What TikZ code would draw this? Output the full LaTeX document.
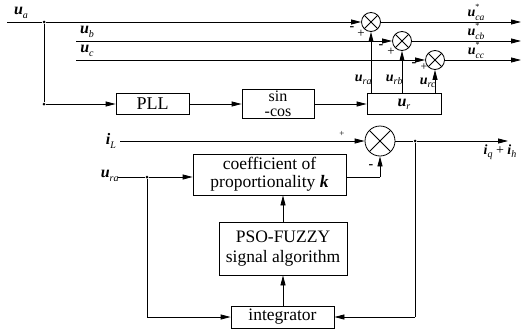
\documentclass[tikz,border=0pt]{standalone}
\usepackage{fontspec}
\setmainfont{Liberation Serif}
\usetikzlibrary{arrows.meta,calc}

% bold italic variable, italic subscript, optional star superscript
\newcommand\bv[1]{\textbf{\textit{#1}}}
\newcommand\sbv[2]{\bv{#1}\raisebox{-0.45ex}{\fontsize{10}{10}\selectfont\textit{#2}}}
\newcommand\ssbv[2]{\bv{#1}\makebox[0pt][l]{\raisebox{1.15ex}{\fontsize{8}{8}\selectfont *}}%
  \raisebox{-0.55ex}{\fontsize{9.5}{10}\selectfont\textit{#2}}}

\begin{document}
\begin{tikzpicture}[x=1pt,y=-1pt,
  line width=0.8pt,
  >={Triangle[length=10pt,width=5pt]},
  blk/.style={draw,rectangle,inner sep=0pt,font=\fontsize{18}{19}\selectfont},
  sumsm/.style={draw,circle,minimum size=19pt,inner sep=0pt,
    path picture={\draw[line width=0.8pt]
      (path picture bounding box.north west)--(path picture bounding box.south east)
      (path picture bounding box.north east)--(path picture bounding box.south west);}},
  sumbig/.style={sumsm,minimum size=30pt},
  lbl/.style={inner sep=0pt,font=\fontsize{16}{17}\selectfont},
  slbl/.style={inner sep=0pt,font=\fontsize{14}{15}\selectfont},
  sgn/.style={inner sep=0pt,font=\fontsize{13}{13}\selectfont},
  msgn/.style={inner sep=0pt,font=\bfseries\fontsize{14}{14}\selectfont},
  dot/.style={circle,fill,inner sep=0pt,minimum size=3pt}]

\useasboundingbox (0,0) rectangle (526,332);

% ---------- reference generation ----------
\coordinate (uaS) at (7,22);
\coordinate (ubS) at (76,41);
\coordinate (ucS) at (76,60);
\node[dot] (ja) at (44,22) {};
\node[dot] (jp) at (44,104) {};

\node[sumsm] (s1) at (371,22) {};
\node[sumsm] (s2) at (402,41) {};
\node[sumsm] (s3) at (435,60) {};

\coordinate (o1) at (521,22);
\coordinate (o2) at (521,41);
\coordinate (o3) at (521,60);

\node[blk,minimum width=73pt,minimum height=21pt] (pll) at (152.5,104) {PLL};
\node[blk,minimum width=72pt,minimum height=29pt,align=center,
      font=\fontsize{16}{15.5}\selectfont] (sc) at (278,104) {sin\\-cos};
\node[blk,minimum width=74pt,minimum height=21pt,font=\fontsize{16}{17}\selectfont]
      (ur) at (404,104) {\sbv{u}{r}};

\draw (uaS) -- (ja);
\draw[->] (ja) -- (s1);
\draw[->] (ubS) -- (s2);
\draw[->] (ucS) -- (s3);
\draw[->] (s1) -- (o1);
\draw[->] (s2) -- (o2);
\draw[->] (s3) -- (o3);
\draw (ja) -- (jp);
\draw[->] (jp) -- (pll);
\draw[->] (pll) -- (sc);
\draw[->] (sc) -- (ur);
\draw[->] (ur.north -| s1) -- (s1);
\draw[->] (ur.north -| s2) -- (s2);
\draw[->] (ur.north -| s3) -- (s3);

\node[lbl] (la) at (21,13) {\sbv{u}{a}};
\node[lbl] (lb) at (87,32) {\sbv{u}{b}};
\node[lbl] (lc) at (87,51) {\sbv{u}{c}};
\node[slbl] (lca) at (476,12) {\ssbv{u}{ca}};
\node[slbl] (lcb) at (476,31) {\ssbv{u}{cb}};
\node[slbl] (lcc) at (476,50) {\ssbv{u}{cc}};
\node[slbl,anchor=east] (lra) at (372,80) {\sbv{u}{ra}};
\node[slbl,anchor=east] (lrb) at (403,80) {\sbv{u}{rb}};
\node[slbl,anchor=east] (lrc) at (436,83) {\sbv{u}{rc}};

\node[msgn] (m1) at (352,29) {-};
\node[sgn] (p1) at (361,34) {+};
\node[msgn] (m2) at (381,47) {-};
\node[sgn] (p2) at (391,52) {+};
\node[msgn] (m3) at (414,65) {-};
\node[sgn,font=\fontsize{12}{12}\selectfont] (p3) at (424,67) {+};

% ---------- current reference ----------
\node[sumbig] (sb) at (380,141) {};
\node[dot] (jo) at (415,141) {};
\coordinate (oi) at (508,141);
\coordinate (iLS) at (120,141);
\coordinate (uraS) at (118,177);
\node[dot] (jr) at (147,177) {};

\node[blk,minimum width=153pt,minimum height=41pt,align=center,
      font=\fontsize{17.5}{18}\selectfont] (coef) at (269.5,174.5)
      {coefficient of\\proportionality \bv{k}};
\node[blk,minimum width=128pt,minimum height=53pt,align=center,
      font=\fontsize{17.5}{20}\selectfont] (pso) at (283,248.5)
      {PSO-FUZZY\\signal algorithm};
\node[blk,minimum width=103pt,minimum height=22pt,
      font=\fontsize{17.5}{18}\selectfont] (intg) at (282.5,317) {integrator};

\coordinate (cr) at (380,177);
\coordinate (bl) at (147,317);
\coordinate (br) at (415,317);

\draw[->] (iLS) -- (sb);
\draw (sb) -- (jo);
\draw[->] (jo) -- (oi);
\draw (uraS) -- (jr);
\draw[->] (jr) -- (jr -| coef.west);
\draw (coef.east |- cr) -- (cr);
\draw[->] (cr) -- (sb);
\draw[->] (pso.north) -- (coef.south -| pso.north);
\draw[->] (intg.north -| pso.north) -- (pso.south);
\draw (jr) -- (bl);
\draw[->] (bl) -- (intg.west |- bl);
\draw (jo) -- (br);
\draw[->] (br) -- (intg.east |- br);

\node[lbl] (liL) at (111,141) {\sbv{i}{L}};
\node[lbl,anchor=east] (lura) at (119,176) {\sbv{u}{ra}};
\node[slbl] (lout) at (500,152) {\sbv{i}{q} + \sbv{i}{h}};
\node[sgn,font=\fontsize{9}{9}\selectfont] (pb) at (342,134) {+};
\node[msgn] (mb) at (371,167) {-};
\end{tikzpicture}
\end{document}
